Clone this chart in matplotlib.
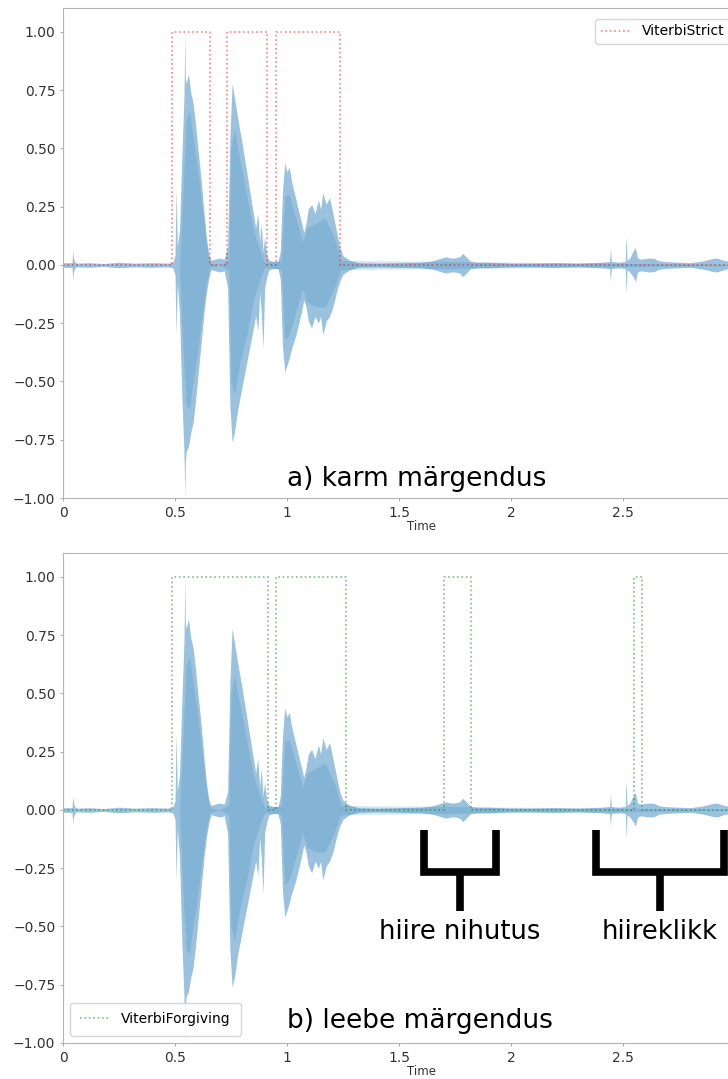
"""Waveform with Viterbi alignment masks: strict (a) vs forgiving (b) labelling."""
import numpy as np
import matplotlib; matplotlib.use("Agg"); import matplotlib.pyplot as plt

# waveform envelope (seconds, upper, lower)
wave_t = [0.00, 0.040, 0.044, 0.047, 0.052, 0.06, 0.12, 0.18, 0.25, 0.32, 0.40, 0.47, 0.49,
          0.500, 0.505, 0.510, 0.520, 0.530, 0.540, 0.544, 0.546, 0.550, 0.560, 0.570, 0.580,
          0.590, 0.600, 0.610, 0.620, 0.630, 0.640, 0.650, 0.660,
          0.680, 0.700, 0.720, 0.735, 0.745, 0.755, 0.765, 0.780, 0.800, 0.820, 0.840, 0.860,
          0.870, 0.878, 0.885, 0.893, 0.900, 0.910, 0.920, 0.940, 0.960,
          0.970, 0.980, 0.990, 1.000, 1.010, 1.020, 1.040, 1.060, 1.075, 1.085, 1.095, 1.110,
          1.125, 1.140, 1.150, 1.160, 1.175, 1.190, 1.205, 1.220, 1.235, 1.250, 1.280, 1.320,
          1.400, 1.500, 1.600, 1.650, 1.690, 1.710, 1.730, 1.750, 1.770, 1.785, 1.800, 1.820,
          1.850, 1.900, 1.950, 2.000, 2.100, 2.200, 2.300, 2.400, 2.440, 2.444, 2.448, 2.480,
          2.510, 2.514, 2.518, 2.530, 2.545, 2.555, 2.565, 2.580, 2.600, 2.620, 2.640, 2.660,
          2.700, 2.750, 2.800, 2.860, 2.900, 2.920, 2.950, 3.000, 3.100, 3.200]
wave_hi = [0.01, 0.01, 0.06, 0.03, 0.015, 0.008, 0.01, 0.006, 0.012, 0.008, 0.01, 0.008, 0.012,
           0.04, 0.33, 0.08, 0.15, 0.45, 0.72, 1.00, 0.80, 0.78, 0.82, 0.74, 0.70,
           0.62, 0.52, 0.43, 0.33, 0.22, 0.12, 0.05, 0.02,
           0.025, 0.03, 0.025, 0.08, 0.55, 0.78, 0.72, 0.63, 0.52, 0.40, 0.28, 0.16,
           0.22, 0.10, 0.18, 0.06, 0.12, 0.04, 0.02, 0.015, 0.015,
           0.06, 0.32, 0.44, 0.40, 0.42, 0.36, 0.28, 0.20, 0.14, 0.18, 0.24, 0.26,
           0.22, 0.28, 0.24, 0.31, 0.26, 0.29, 0.22, 0.15, 0.08, 0.04, 0.02, 0.01,
           0.008, 0.01, 0.012, 0.018, 0.03, 0.035, 0.03, 0.03, 0.035, 0.05, 0.035, 0.015,
           0.012, 0.012, 0.01, 0.008, 0.008, 0.01, 0.008, 0.012, 0.015, 0.07, 0.015, 0.012,
           0.015, 0.13, 0.02, 0.03, 0.06, 0.075, 0.03, 0.025, 0.028, 0.03, 0.028, 0.018,
           0.014, 0.012, 0.01, 0.018, 0.028, 0.03, 0.02, 0.01, 0.008, 0.008]
wave_lo = [-0.01, -0.01, -0.06, -0.03, -0.015, -0.008, -0.01, -0.006, -0.012, -0.008, -0.01, -0.008, -0.012,
           -0.04, -0.30, -0.08, -0.20, -0.55, -0.80, -1.00, -0.85, -0.80, -0.78, -0.72, -0.68,
           -0.60, -0.50, -0.40, -0.30, -0.20, -0.12, -0.06, -0.02,
           -0.025, -0.03, -0.025, -0.10, -0.60, -0.76, -0.72, -0.62, -0.52, -0.42, -0.32, -0.22,
           -0.28, -0.12, -0.20, -0.36, -0.10, -0.05, -0.02, -0.015, -0.015,
           -0.06, -0.35, -0.46, -0.43, -0.40, -0.36, -0.30, -0.22, -0.15, -0.18, -0.24, -0.27,
           -0.22, -0.25, -0.22, -0.30, -0.24, -0.22, -0.18, -0.12, -0.07, -0.04, -0.02, -0.01,
           -0.008, -0.01, -0.012, -0.018, -0.03, -0.035, -0.03, -0.03, -0.035, -0.05, -0.035, -0.015,
           -0.012, -0.012, -0.01, -0.008, -0.008, -0.01, -0.008, -0.012, -0.015, -0.07, -0.015, -0.012,
           -0.015, -0.12, -0.02, -0.03, -0.05, -0.07, -0.03, -0.025, -0.028, -0.03, -0.028, -0.018,
           -0.014, -0.012, -0.01, -0.018, -0.028, -0.03, -0.02, -0.01, -0.008, -0.008]
# darker core of the waveform
core_t = [0.00, 0.52, 0.535, 0.55, 0.565, 0.58, 0.60, 0.62, 0.64, 0.655, 0.70, 0.74, 0.75, 0.765,
          0.79, 0.82, 0.85, 0.88, 0.90, 0.975, 0.99, 1.01, 1.04, 1.07, 1.09, 1.13, 1.17, 1.21,
          1.24, 3.20]
core_hi = [0.0, 0.0, 0.30, 0.62, 0.66, 0.55, 0.42, 0.26, 0.09, 0.01, 0.0, 0.02, 0.50, 0.58,
           0.45, 0.30, 0.15, 0.06, 0.01, 0.02, 0.30, 0.30, 0.20, 0.10, 0.16, 0.18, 0.20, 0.12,
           0.02, 0.0]
core_lo = [0.0, 0.0, -0.35, -0.60, -0.62, -0.50, -0.38, -0.22, -0.08, -0.01, 0.0, -0.02, -0.50, -0.56,
           -0.42, -0.30, -0.15, -0.06, -0.01, -0.02, -0.32, -0.30, -0.20, -0.10, -0.16, -0.18, -0.18, -0.10,
           -0.02, 0.0]

# Viterbi segments (start, end in seconds)
strict_on = [0.487, 0.732, 0.951]
strict_off = [0.656, 0.911, 1.237]
forgiving_on = [0.487, 0.951, 1.700, 2.548]
forgiving_off = [0.915, 1.263, 1.820, 2.583]

bracket_lo = [1.612, 2.379]
bracket_hi = [1.933, 2.951]
bracket_labels = ["hiire nihutus", "hiireklikk"]

T_END = 3.2

def steps(on, off):
    x, y = [0.0], [0.0]
    for a, b in zip(on, off):
        x += [a, a, b, b]; y += [0, 1, 1, 0]
    return x + [T_END], y + [0]

def waveform(ax):
    ax.fill_between(wave_t, wave_lo, wave_hi, color="#1f77b4", alpha=0.45, lw=0)
    ax.fill_between(core_t, core_lo, core_hi, color="#1f77b4", alpha=0.18, lw=0)

def style(ax):
    ax.set_xlim(0, T_END); ax.set_ylim(-1.0, 1.103)
    ax.set_xticks([0, 0.5, 1, 1.5, 2, 2.5]); ax.set_xticklabels(["0", "0.5", "1", "1.5", "2", "2.5"])
    ax.set_yticks([-1, -0.75, -0.5, -0.25, 0, 0.25, 0.5, 0.75, 1.0])
    ax.tick_params(labelsize=10, colors="#333333", length=2, color="#aaaaaa")
    for s in ax.spines.values(): s.set_color("#b5b5b5")
    ax.set_xlabel("Time", fontsize=8.5, color="#333333", labelpad=0)

fig = plt.figure(figsize=(7.28, 10.79), dpi=100)
W = T_END * 224 / 728
ax1 = fig.add_axes([63/728, 1 - 498/1079, W, 490/1079])
ax2 = fig.add_axes([63/728, 1 - 1043/1079, W, 490/1079])

waveform(ax1)
sx, sy = steps(strict_on, strict_off)
ax1.plot(sx, sy, ls=":", color="red", alpha=0.5, lw=1.2, label="ViterbiStrict")
style(ax1)
ax1.legend(loc="upper left", bbox_to_anchor=(588/728, 1 - 12/1079), bbox_transform=fig.transFigure,
           fontsize=10, handlelength=2.2)
ax1.text(1.0, -0.92, "a) karm märgendus", fontsize=19, va="center", ha="left")

waveform(ax2)
fx, fy = steps(forgiving_on, forgiving_off)
ax2.plot(fx, fy, ls=":", color="green", alpha=0.5, lw=1.2, label="ViterbiForgiving")
style(ax2)
ax2.legend(loc="lower left", fontsize=10, handlelength=2.2, borderpad=0.7)
ax2.text(1.0, -0.905, "b) leebe märgendus", fontsize=19, va="center", ha="left")

for a, b, lab in zip(bracket_lo, bracket_hi, bracket_labels):
    m = (a + b) / 2
    ax2.plot([a, a, b, b], [-0.086, -0.268, -0.268, -0.086], color="black", lw=5.5,
             solid_joinstyle="miter", solid_capstyle="butt", clip_on=False)
    ax2.plot([m, m], [-0.268, -0.433], color="black", lw=5.5, solid_capstyle="butt", clip_on=False)
    ax2.text(m, -0.525, lab, fontsize=18.5, ha="center", va="center")

plt.savefig("out.png", dpi=100)
